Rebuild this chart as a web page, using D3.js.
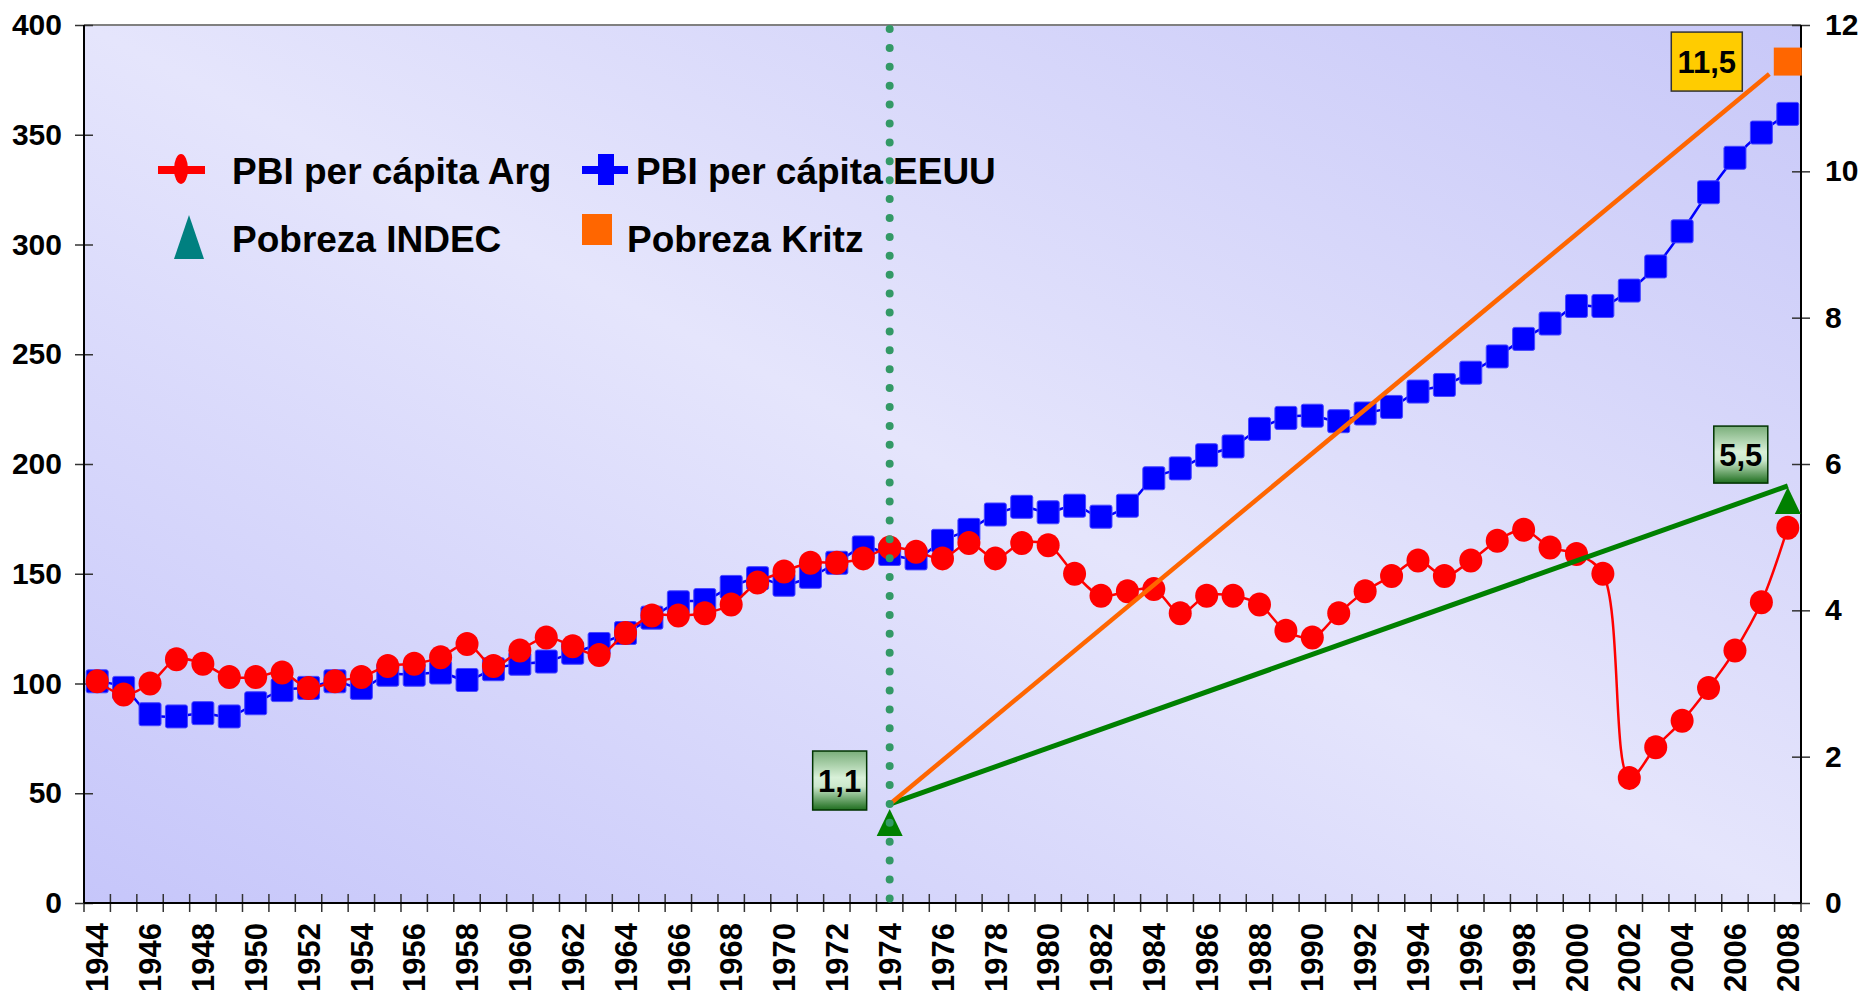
<!DOCTYPE html>
<html>
<head>
<meta charset="utf-8">
<script src="https://cdn.jsdelivr.net/npm/d3@7"></script>
<style>
  body { margin: 0; background: #fff; }
  text { font-family: Arial, "Liberation Sans", sans-serif; font-weight: bold; fill: #000; }
</style>
</head>
<body>
<div id="chart"></div>
<script>
// Categories
const years = [1944,1945,1946,1947,1948,1949,1950,1951,1952,1953,
  1954,1955,1956,1957,1958,1959,1960,1961,1962,1963,
  1964,1965,1966,1967,1968,1969,1970,1971,1972,1973,
  1974,1975,1976,1977,1978,1979,1980,1981,1982,1983,
  1984,1985,1986,1987,1988,1989,1990,1991,1992,1993,
  1994,1995,1996,1997,1998,1999,2000,2001,2002,2003,
  2004,2005,2006,2007,2008];
// PBI per cápita (1944 = 100), left axis
const pbiArg = [101,95,100,111,109,103,103,105,98,101,
  103,108,109,112,118,108,115,121,117,113,
  123,131,131,132,136,146,151,155,155,157,
  162,160,157,164,157,164,163,150,140,142,
  143,132,140,140,136,124,121,132,142,149,
  156,149,156,165,170,162,159,150,57,71,
  83,98,115,137,171];
const pbiEEUU = [101,98,86,85,86.5,85,91,97,98,101,
  98,104,104,105,101.6,106.5,109,110,114,118,
  123,130,137,138,144,148,145,148.6,155,162,
  159,157,165,170,177,180.5,178,181,176,181,
  193.5,198,204,208,216,221,222,219.5,223,226,
  233,236,241.6,249,257,264,272,272,279,290,
  306,323.8,339.5,351,359.5];
// Pobreza (right axis)
const indecYears = [1974, 2008];
const indecValues = [1.1, 5.5];
const kritzYears = [2008];
const kritzValues = [11.5];
// drawn trend lines (right axis)
const indecTrend = [[1974, 1.35], [2008, 5.7]];
const kritzTrend = [[1974, 1.35], [2007.3, 11.33]];
const markYear = 1974;
// tick labels
const leftTicks = [0,50,100,150,200,250,300,350,400];
const rightTicks = [0,2,4,6,8,10,12];
const yearLabels = years.filter(y => y % 2 === 0);

const width = 1863, height = 992;
const plot = {left: 84, right: 1801, top: 25, bottom: 903};

const svg = d3.select("#chart").append("svg")
  .attr("width", width).attr("height", height);

const defs = svg.append("defs");
const bg = defs.append("linearGradient").attr("id", "bg")
  .attr("x1", 0).attr("y1", 1).attr("x2", 1).attr("y2", 0);
bg.append("stop").attr("offset", 0).attr("stop-color", "#c6c6fa");
bg.append("stop").attr("offset", 0.5).attr("stop-color", "#e5e5fc");
bg.append("stop").attr("offset", 1).attr("stop-color", "#c8c8f8");
const gbox = defs.append("linearGradient").attr("id", "gbox")
  .attr("x1", 0).attr("y1", 0).attr("x2", 0).attr("y2", 1);
gbox.append("stop").attr("offset", 0).attr("stop-color", "#7aae7a");
gbox.append("stop").attr("offset", 0.45).attr("stop-color", "#d8f0d8");
gbox.append("stop").attr("offset", 0.6).attr("stop-color", "#cce8cc");
gbox.append("stop").attr("offset", 1).attr("stop-color", "#1e6e1e");

// scales
const x = d3.scaleBand().domain(years).range([plot.left, plot.right]);
const xc = yr => x(yr) + x.bandwidth() / 2;
const xYear = d3.scaleLinear().domain([1944, 2008]).range([xc(1944), xc(2008)]);
const yL = d3.scaleLinear().domain([0, 400]).range([plot.bottom, plot.top]);
const yR = d3.scaleLinear().domain([0, 12]).range([plot.bottom, plot.top]);

// background
svg.append("rect")
  .attr("x", plot.left).attr("y", plot.top)
  .attr("width", plot.right - plot.left).attr("height", plot.bottom - plot.top)
  .attr("fill", "url(#bg)");
svg.append("line")
  .attr("x1", plot.left).attr("x2", plot.right)
  .attr("y1", plot.top).attr("y2", plot.top)
  .attr("stroke", "#808080").attr("stroke-width", 2);

// left axis
const gl = svg.append("g")
  .attr("transform", `translate(${plot.left + 9},0)`)
  .call(d3.axisLeft(yL).tickValues(leftTicks).tickSize(18).tickPadding(13));
gl.select(".domain").remove();
gl.selectAll("text").style("font-size", "30px");
gl.selectAll("line").attr("stroke", "#333").attr("stroke-width", 1.5);

// right axis
const gr = svg.append("g")
  .attr("transform", `translate(${plot.right - 9},0)`)
  .call(d3.axisRight(yR).tickValues(rightTicks).tickSize(18).tickPadding(15));
gr.select(".domain").remove();
gr.selectAll("text").style("font-size", "30px");
gr.selectAll("line").attr("stroke", "#333").attr("stroke-width", 1.5);

// bottom tick marks at category edges
const edges = years.map(y => x(y)).concat([plot.right]);
svg.append("g").selectAll("line").data(edges).join("line")
  .attr("x1", d => d).attr("x2", d => d)
  .attr("y1", plot.bottom - 9).attr("y2", plot.bottom + 9)
  .attr("stroke", "#333").attr("stroke-width", 1.5);

// bottom labels
const gb = svg.append("g")
  .attr("transform", `translate(0,${plot.bottom})`)
  .call(d3.axisBottom(x).tickValues(yearLabels).tickSize(0));
gb.select(".domain").remove();
gb.selectAll("text")
  .style("font-size", "31px")
  .attr("text-anchor", "end")
  .attr("transform", "rotate(-90)")
  .attr("x", -20).attr("y", 0).attr("dy", "0.36em");

// axis lines
svg.append("line").attr("x1", plot.left).attr("x2", plot.left)
  .attr("y1", plot.top).attr("y2", plot.bottom).attr("stroke", "#000").attr("stroke-width", 2);
svg.append("line").attr("x1", plot.right).attr("x2", plot.right)
  .attr("y1", plot.top).attr("y2", plot.bottom).attr("stroke", "#000").attr("stroke-width", 2);
svg.append("line").attr("x1", plot.left).attr("x2", plot.right)
  .attr("y1", plot.bottom).attr("y2", plot.bottom).attr("stroke", "#000").attr("stroke-width", 2);

// EEUU series
const lineL = d3.line().x((d, i) => xc(years[i])).y(d => yL(d)).curve(d3.curveCatmullRom.alpha(0.5));
svg.append("path").datum(pbiEEUU)
  .attr("fill", "none").attr("stroke", "#0000ff").attr("stroke-width", 2.5)
  .attr("d", lineL);
svg.append("g").selectAll("rect").data(pbiEEUU).join("rect")
  .attr("x", (d, i) => xc(years[i]) - 11).attr("y", d => yL(d) - 11.5)
  .attr("width", 22).attr("height", 23).attr("rx", 2)
  .attr("fill", "#0000ff").attr("stroke", "#4747ff").attr("stroke-width", 1);

// Arg series
svg.append("path").datum(pbiArg)
  .attr("fill", "none").attr("stroke", "#ff0000").attr("stroke-width", 2.5)
  .attr("d", lineL);
svg.append("g").selectAll("ellipse").data(pbiArg).join("ellipse")
  .attr("cx", (d, i) => xc(years[i])).attr("cy", d => yL(d))
  .attr("rx", 11.5).attr("ry", 12)
  .attr("fill", "#ff0000");

// poverty trend lines
const lineR = d3.line().x(d => xYear(d[0])).y(d => yR(d[1]));
svg.append("path").datum(indecTrend)
  .attr("fill", "none").attr("stroke", "#008000").attr("stroke-width", 5)
  .attr("d", lineR);
svg.append("path").datum(kritzTrend)
  .attr("fill", "none").attr("stroke", "#ff6600").attr("stroke-width", 4.5)
  .attr("d", lineR);

// poverty markers
const tri = (cx, cy, w, h) => `M${cx},${cy - h / 2}L${cx + w / 2},${cy + h / 2}L${cx - w / 2},${cy + h / 2}Z`;
svg.append("g").selectAll("path").data(indecValues).join("path")
  .attr("d", (d, i) => tri(xc(indecYears[i]), yR(d), 26, 27))
  .attr("fill", "#008000");
svg.append("g").selectAll("rect").data(kritzValues).join("rect")
  .attr("x", (d, i) => xc(kritzYears[i]) - 14).attr("y", d => yR(d) - 14)
  .attr("width", 28).attr("height", 28)
  .attr("fill", "#ff6600");

// dotted vertical line at 1974
svg.append("line")
  .attr("x1", xc(markYear)).attr("x2", xc(markYear))
  .attr("y1", plot.top + 4).attr("y2", plot.bottom + 8)
  .attr("stroke", "#339966").attr("stroke-width", 8)
  .attr("stroke-linecap", "round").attr("stroke-dasharray", "0 18.9");

// value boxes
const fmt = v => String(v).replace(".", ",");
const boxes = [
  {yr: indecYears[0], v: indecValues[0], dx: -50, dy: -42, w: 54, h: 59, fill: "url(#gbox)", stroke: "#003300"},
  {yr: indecYears[1], v: indecValues[1], dx: -47, dy: -46, w: 54, h: 57, fill: "url(#gbox)", stroke: "#003300"},
  {yr: kritzYears[0], v: kritzValues[0], dx: -81, dy: 0, w: 71, h: 59, fill: "#ffcc00", stroke: "#333"}
];
const gbx = svg.append("g").selectAll("g").data(boxes).join("g")
  .attr("transform", d => `translate(${xc(d.yr) + d.dx},${yR(d.v) + d.dy})`);
gbx.append("rect")
  .attr("x", d => -d.w / 2).attr("y", d => -d.h / 2)
  .attr("width", d => d.w).attr("height", d => d.h)
  .attr("fill", d => d.fill).attr("stroke", d => d.stroke).attr("stroke-width", 1.5);
gbx.append("text")
  .attr("text-anchor", "middle").attr("dy", "0.36em")
  .style("font-size", "31px")
  .text(d => fmt(d.v));

// legend
const lg = svg.append("g");
lg.append("line").attr("x1", 158).attr("x2", 205).attr("y1", 170).attr("y2", 170)
  .attr("stroke", "#ff0000").attr("stroke-width", 8);
lg.append("ellipse").attr("cx", 181).attr("cy", 169).attr("rx", 7).attr("ry", 15).attr("fill", "#ff0000");
lg.append("text").attr("x", 232).attr("y", 184).style("font-size", "37px").text("PBI per cápita Arg");

lg.append("line").attr("x1", 582).attr("x2", 628).attr("y1", 170).attr("y2", 170)
  .attr("stroke", "#0000ff").attr("stroke-width", 8);
lg.append("rect").attr("x", 598).attr("y", 154).attr("width", 16).attr("height", 31).attr("fill", "#0000ff");
lg.append("text").attr("x", 636).attr("y", 184).style("font-size", "37px").text("PBI per cápita EEUU");

lg.append("path").attr("d", tri(189, 237, 30, 44)).attr("fill", "#008080");
lg.append("text").attr("x", 232).attr("y", 252).style("font-size", "37px").text("Pobreza INDEC");

lg.append("rect").attr("x", 582).attr("y", 214).attr("width", 30).attr("height", 31).attr("fill", "#ff6600");
lg.append("text").attr("x", 627).attr("y", 252).style("font-size", "37px").text("Pobreza Kritz");
</script>
</body>
</html>
